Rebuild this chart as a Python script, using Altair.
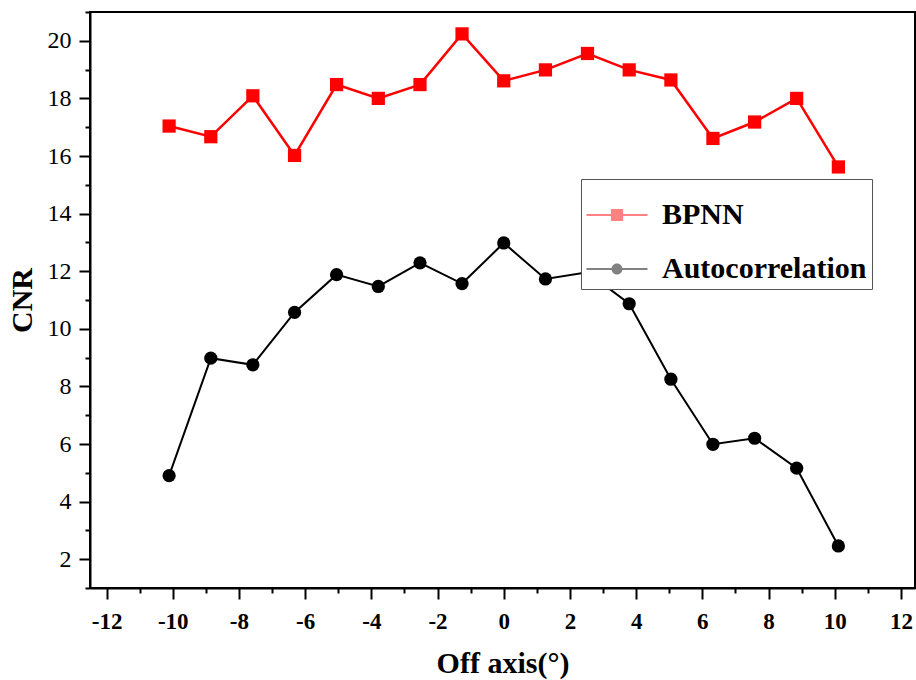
import altair as alt
import pandas as pd

# ---- data ----
x_vals = [-10.11, -8.85, -7.58, -6.32, -5.05, -3.79, -2.53, -1.26, 0.0,
          1.26, 2.53, 3.79, 5.05, 6.32, 7.58, 8.85, 10.11]
bpnn = [17.04, 16.67, 18.09, 16.02, 18.48, 18.0, 18.48, 20.24, 18.61,
        18.99, 19.56, 18.99, 18.64, 16.61, 17.18, 18.0, 15.62]
autocorr = [4.90, 8.98, 8.75, 10.57, 11.88, 11.47, 12.29, 11.57, 12.98,
            11.73, 11.96, 10.87, 8.25, 5.99, 6.20, 5.16, 2.46]
series_names = ["BPNN", "Autocorrelation"]
series_colors = ["#ff0000", "#000000"]
series_shapes = ["square", "circle"]
x_ticks = list(range(-12, 13))
y_ticks = list(range(1, 22))

rows = []
for name, vals in zip(series_names, [bpnn, autocorr]):
    for xv, yv in zip(x_vals, vals):
        rows.append({"x": xv, "y": yv, "series": name})
df = pd.DataFrame(rows)

serif = "Liberation Serif"

x_scale = alt.Scale(domain=[-12.5, 12.425], nice=False, zero=False)
y_scale = alt.Scale(domain=[1, 21], nice=False, zero=False)

x_axis = alt.Axis(
    values=x_ticks,
    labelExpr="datum.value % 2 === 0 ? '' + datum.value : ''",
    tickSize={"condition": {"test": "datum.value % 2 !== 0", "value": 5}, "value": 11},
    labelFont=serif, labelFontSize=23, labelFontWeight="bold",
    labelPadding=11, titleFont=serif, titleFontSize=30, titleFontWeight="bold",
    titlePadding=15, labelFlush=False, labelOverlap=False,
)
y_axis = alt.Axis(
    values=y_ticks,
    labelExpr="datum.value % 2 === 0 ? '' + datum.value : ''",
    tickSize={"condition": {"test": "datum.value % 2 !== 0", "value": 5}, "value": 11},
    labelFont=serif, labelFontSize=24, labelFontWeight="normal",
    labelPadding=8, titleFont=serif, titleFontSize=30, titleFontWeight="bold",
    titlePadding=10, labelFlush=False, labelOverlap=False,
)

x_enc = alt.X("x:Q", scale=x_scale, axis=x_axis, title="Off axis(°)")
y_enc = alt.Y("y:Q", scale=y_scale, axis=y_axis, title="CNR")

lines = alt.Chart(df).mark_line().encode(
    x=x_enc, y=y_enc,
    stroke=alt.Stroke("series:N", scale=alt.Scale(domain=series_names, range=series_colors), legend=None),
    strokeWidth=alt.StrokeWidth("series:N", scale=alt.Scale(domain=series_names, range=[2.5, 2.0]), legend=None),
    order="x:Q",
)

point_layers = []
for name, shp, col in zip(series_names, series_shapes, series_colors):
    point_layers.append(
        alt.Chart(df).transform_filter(alt.datum.series == name)
        .mark_point(filled=True, opacity=1, shape=shp, size=175, color=col)
        .encode(x=x_enc, y=y_enc)
    )

# legend symbols: a short filled bar (the line) with the marker on it
sq_path = "M-1,-0.035H1V0.035H-1ZM-0.2,-0.2H0.2V0.2H-0.2Z"
ci_path = "M-1,-0.035H1V0.035H-1ZM0.18,0A0.18,0.18 0 1,1 -0.18,0A0.18,0.18 0 1,1 0.18,0Z"

leg = alt.Legend(
    title=None, orient="none", legendX=491, legendY=167,
    labelFont=serif, labelFontSize=30, labelFontWeight="bold", labelColor="black",
    labelLimit=400, symbolSize=3721, symbolStrokeWidth=1,
    symbolStrokeColor="transparent",
    strokeColor="#555555", fillColor="white",
    padding=5, rowPadding=8, labelOffset=14,
)

# layer with no visible marks that only carries the legend
legend_layer = alt.Chart(df).transform_filter("false").mark_point(filled=True, size=175).encode(
    fill=alt.Fill("series:N", title=None,
                  scale=alt.Scale(domain=series_names, range=series_colors), legend=leg),
    shape=alt.Shape("series:N", title=None,
                    scale=alt.Scale(domain=series_names, range=[sq_path, ci_path]), legend=leg),
)

chart = alt.layer(lines, *point_layers, legend_layer).resolve_scale(
    fill="independent", shape="independent"
).properties(
    width=825, height=576,
    autosize=alt.AutoSizeParams(type="none"),
    padding={"left": 90, "top": 12, "right": 1, "bottom": 92},
).configure_view(
    stroke="black", strokeWidth=2
).configure_axis(
    grid=False, domainColor="black", domainWidth=2, tickColor="black", tickWidth=2,
    labelColor="black", titleColor="black",
).configure_legend(
    orient="none", legendX=491, legendY=167,
    labelFont=serif, labelFontSize=30, labelFontWeight="bold", labelColor="black",
    labelLimit=400, symbolSize=3721, padding=5, rowPadding=8, labelOffset=14,
    strokeColor="#555555", fillColor="white",
)

chart.save("out.html", embed_options={"renderer": "svg", "actions": False})
